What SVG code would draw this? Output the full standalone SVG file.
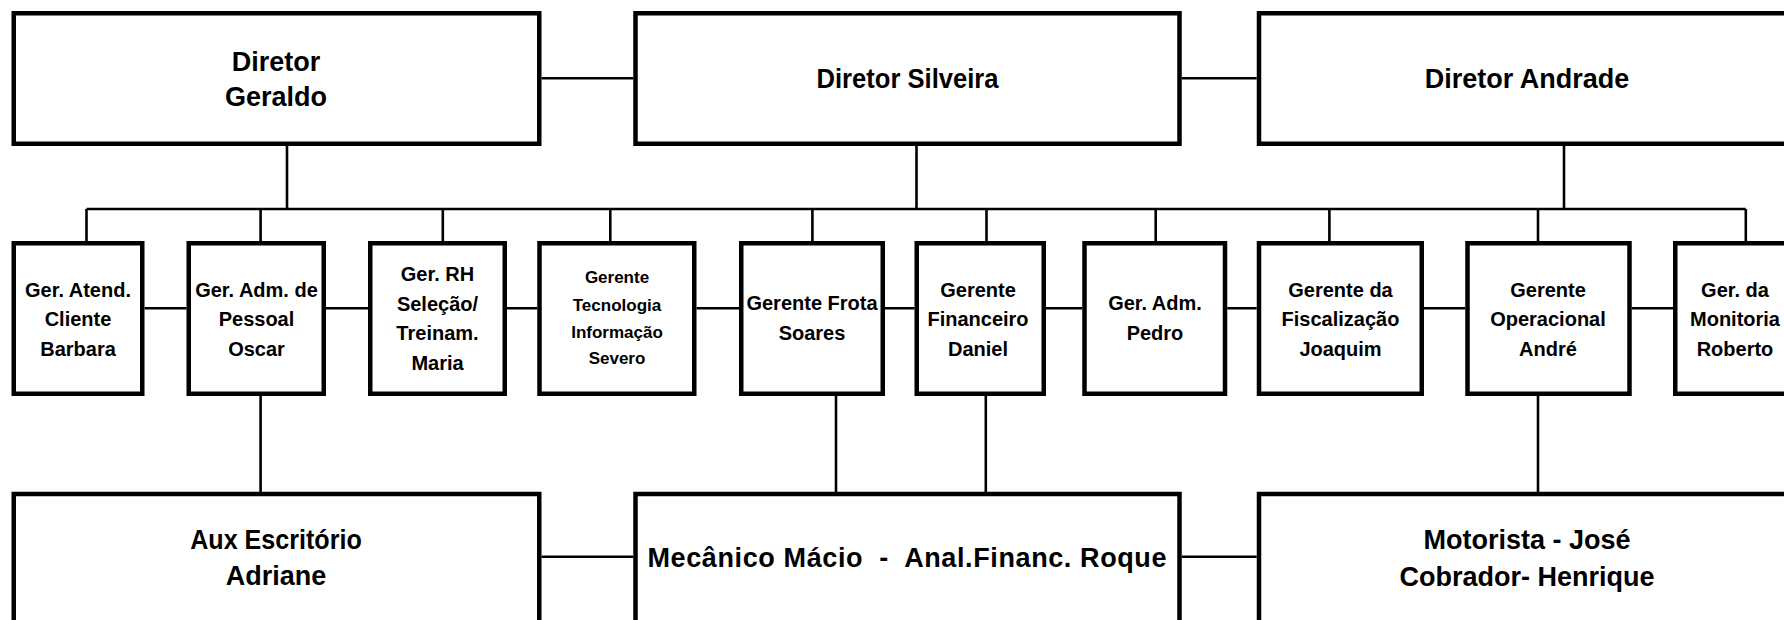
<svg xmlns="http://www.w3.org/2000/svg" width="1784" height="620" viewBox="0 0 1784 620">
<style>
.box{fill:#fff;stroke:#000;stroke-width:4.5}
.ln{stroke:#000;stroke-width:2.6;fill:none}
.big{font-family:"Liberation Sans",Arial,sans-serif;font-weight:bold;font-size:27px;fill:#000;text-anchor:middle}
.mid{font-family:"Liberation Sans",Arial,sans-serif;font-weight:bold;font-size:20px;fill:#000;text-anchor:middle}
.sm{font-family:"Liberation Sans",Arial,sans-serif;font-weight:bold;font-size:17px;fill:#000;text-anchor:middle}
</style>
<rect width="1784" height="620" fill="#fff"/>
<g id="connectors">
<path class="ln" d="M541.5 78.3H633.3M1181.7 78.3H1256.7"/>
<path class="ln" d="M287 146V209M916.5 146V209M1564 146V209"/>
<path class="ln" d="M86.5 209H1745.8"/>
<path class="ln" d="M86.5 209V241M260.6 209V241M442.8 209V241M610.3 209V241M812.4 209V241M986.5 209V241M1155.7 209V241M1329.4 209V241M1538 209V241M1745.8 209V241"/>
<path class="ln" d="M144.5 308.3H186.5M326 308.3H368M507 308.3H537.3M696.5 308.3H739M885 308.3H914.6M1045.8 308.3H1082.2M1227.2 308.3H1256.7M1424 308.3H1465.3M1631.8 308.3H1673"/>
<path class="ln" d="M260.6 396V492M836 396V492M985.8 396V492M1538 396V492"/>
<path class="ln" d="M541.5 556.7H633.3M1181.7 556.7H1256.7"/>
</g>
<g id="dir-geraldo"><rect class="box" x="13.75" y="13.25" width="525.5" height="130.5"/><text class="big" x="276" y="71">Diretor</text><text class="big" x="276" y="106">Geraldo</text></g>
<g id="dir-silveira"><rect class="box" x="635.5" y="13.25" width="544" height="130.5"/><text class="big" x="907.5" y="88" textLength="182" lengthAdjust="spacingAndGlyphs">Diretor Silveira</text></g>
<g id="dir-andrade"><rect class="box" x="1259" y="13.25" width="536" height="130.5"/><text class="big" x="1527" y="88">Diretor Andrade</text></g>

<g id="g-barbara"><rect class="box" x="13.75" y="243.25" width="128.5" height="150.5"/><text class="mid" x="78" y="296.7">Ger. Atend.</text><text class="mid" x="78" y="326">Cliente</text><text class="mid" x="78" y="355.5">Barbara</text></g>
<g id="g-oscar"><rect class="box" x="188.75" y="243.25" width="135" height="150.5"/><text class="mid" x="256.5" y="296.7">Ger. Adm. de</text><text class="mid" x="256.5" y="326">Pessoal</text><text class="mid" x="256.5" y="355.5">Oscar</text></g>
<g id="g-maria"><rect class="box" x="370.25" y="243.25" width="134.5" height="150.5"/><text class="mid" x="437.5" y="281">Ger. RH</text><text class="mid" x="437.5" y="310.5">Seleção/</text><text class="mid" x="437.5" y="340">Treinam.</text><text class="mid" x="437.5" y="369.5">Maria</text></g>
<g id="g-severo"><rect class="box" x="539.5" y="243.25" width="154.75" height="150.5"/><text class="sm" x="617" y="283.3">Gerente</text><text class="sm" x="617" y="310.7">Tecnologia</text><text class="sm" x="617" y="337.5">Informação</text><text class="sm" x="617" y="364">Severo</text></g>
<g id="g-soares"><rect class="box" x="741.25" y="243.25" width="141.5" height="150.5"/><text class="mid" x="812" y="310">Gerente Frota</text><text class="mid" x="812" y="339.5">Soares</text></g>
<g id="g-daniel"><rect class="box" x="916.75" y="243.25" width="127" height="150.5"/><text class="mid" x="978" y="296.7">Gerente</text><text class="mid" x="978" y="326">Financeiro</text><text class="mid" x="978" y="355.5">Daniel</text></g>
<g id="g-pedro"><rect class="box" x="1084.5" y="243.25" width="140.5" height="150.5"/><text class="mid" x="1155" y="310">Ger. Adm.</text><text class="mid" x="1155" y="339.5">Pedro</text></g>
<g id="g-joaquim"><rect class="box" x="1259" y="243.25" width="162.75" height="150.5"/><text class="mid" x="1340.5" y="296.7">Gerente da</text><text class="mid" x="1340.5" y="326">Fiscalização</text><text class="mid" x="1340.5" y="355.5">Joaquim</text></g>
<g id="g-andre"><rect class="box" x="1467.5" y="243.25" width="162" height="150.5"/><text class="mid" x="1548" y="296.7">Gerente</text><text class="mid" x="1548" y="326">Operacional</text><text class="mid" x="1548" y="355.5">André</text></g>
<g id="g-roberto"><rect class="box" x="1675.25" y="243.25" width="119.5" height="150.5"/><text class="mid" x="1735" y="296.7">Ger. da</text><text class="mid" x="1735" y="326">Monitoria</text><text class="mid" x="1735" y="355.5">Roberto</text></g>

<g id="aux-adriane"><rect class="box" x="13.75" y="494" width="525.5" height="140"/><text class="big" x="276" y="548.5" textLength="171.5" lengthAdjust="spacingAndGlyphs">Aux Escritório</text><text class="big" x="276" y="584.5">Adriane</text></g>
<g id="mecanico-roque"><rect class="box" x="635.5" y="494" width="544" height="140"/><text class="big" x="907" y="566.7" xml:space="preserve" textLength="519">Mecânico Mácio  -  Anal.Financ. Roque</text></g>
<g id="motorista-cobrador"><rect class="box" x="1259" y="494" width="540" height="140"/><text class="big" x="1527" y="549.3">Motorista - José</text><text class="big" x="1527" y="585.5">Cobrador- Henrique</text></g>
</svg>
